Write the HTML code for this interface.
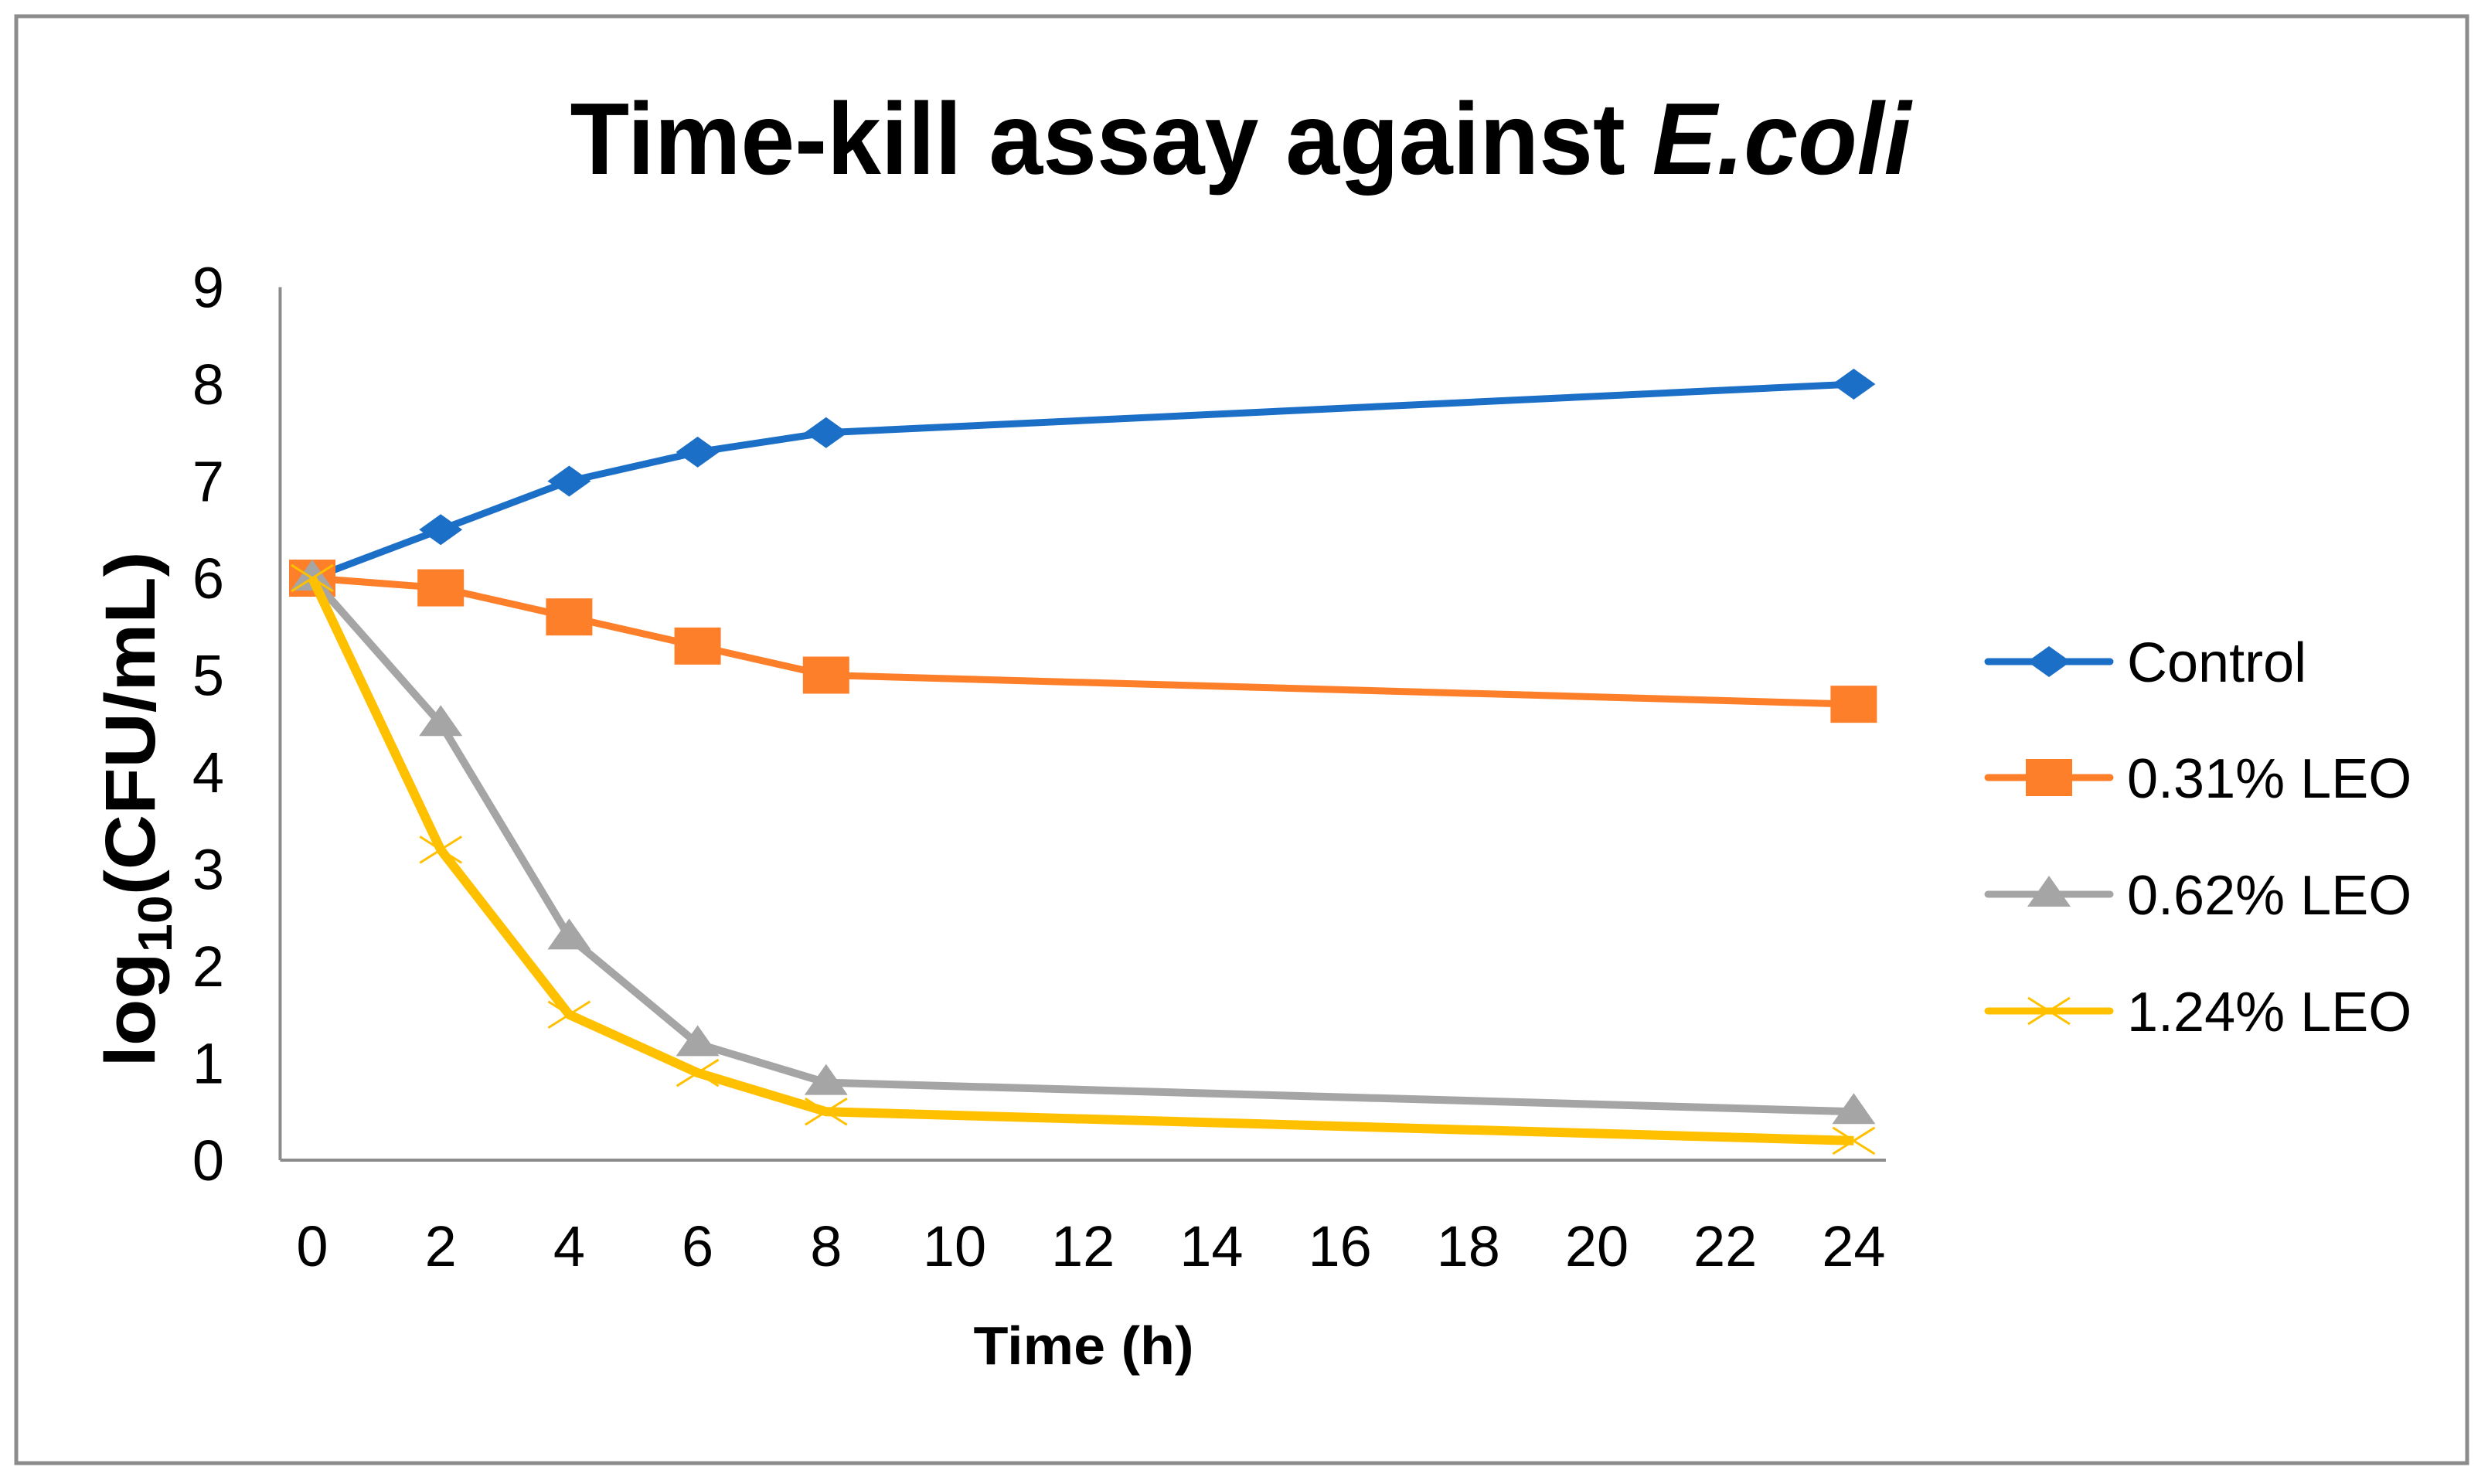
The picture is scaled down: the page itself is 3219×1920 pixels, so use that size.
<!DOCTYPE html>
<html><head><meta charset="utf-8"><style>
html,body{margin:0;padding:0;background:#fff;}
svg{display:block;font-family:"Liberation Sans",sans-serif;}
</style></head><body>
<svg id="chart" width="3219" height="1920" viewBox="0 0 3219 1920" xmlns="http://www.w3.org/2000/svg">
<rect x="21" y="21" width="3171" height="1872" fill="#fff" stroke="#8c8c8c" stroke-width="5"/>
<text x="1605" y="225" text-anchor="middle" font-size="132" font-weight="bold" textLength="1735" lengthAdjust="spacingAndGlyphs">Time-kill assay against <tspan font-style="italic">E.coli</tspan></text>
<g id="axes"></g>
<g id="series"></g>
<g id="legend"></g>
<text x="1402" y="1765" text-anchor="middle" font-size="70" font-weight="bold" textLength="285" lengthAdjust="spacingAndGlyphs">Time (h)</text>
<text transform="translate(200,1047) rotate(-90)" text-anchor="middle" font-size="92" font-weight="bold" textLength="667" lengthAdjust="spacingAndGlyphs">log<tspan font-size="62" dy="22">10</tspan><tspan dy="-22">(CFU/mL)</tspan></text>
</svg>
<script>
const xTicks = [0,2,4,6,8,10,12,14,16,18,20,22,24];
const yTicks = [0,1,2,3,4,5,6,7,8,9];
const times = [0,2,4,6,8,24];
const control = [6,6.5,7,7.3,7.5,8];
const leo031 = [6,5.9,5.6,5.3,5.0,4.7];
const leo062 = [6,4.5,2.3,1.2,0.8,0.5];
const leo124 = [6,3.2,1.5,0.9,0.5,0.2];
const seriesNames = ["Control","0.31% LEO","0.62% LEO","1.24% LEO"];

const NS="http://www.w3.org/2000/svg";
const X0=404, XSTEP=83.1, Y0=1501, YUNIT=125.5;
function xs(t){return X0+t*XSTEP;}
function ys(v){return Y0-v*YUNIT;}
function mk(tag,attrs,parent){const e=document.createElementNS(NS,tag);for(const k in attrs)e.setAttribute(k,attrs[k]);parent.appendChild(e);return e;}
const axes=document.getElementById('axes');
let a=mk('line',{x1:xs(-0.5),y1:ys(0),x2:xs(24.5),y2:ys(0),stroke:'#8c8c8c','stroke-width':4},axes);


a=mk('line',{x1:xs(-0.5),y1:ys(0),x2:xs(-0.5),y2:ys(9),stroke:'#8c8c8c','stroke-width':4},axes);


xTicks.forEach(t=>{const e=mk('text',{x:xs(t),y:1638,'text-anchor':'middle','font-size':74},axes);e.textContent=t;

});
yTicks.forEach(v=>{const e=mk('text',{x:290,y:ys(v)+26,'text-anchor':'end','font-size':74},axes);e.textContent=v;

});

const colors=['#1c6fc6','#fe7f2a','#a5a5a5','#ffc000'];
const widths=[9,9,10,12];
const data=[control,leo031,leo062,leo124];
function marker(i,cx,cy,parent){
  let m;
  if(i===0) m=mk('polygon',{points:`${cx-28},${cy} ${cx},${cy-20} ${cx+28},${cy} ${cx},${cy+20}`,fill:colors[0]},parent);
  else if(i===1) m=mk('rect',{x:cx-30,y:cy-24,width:60,height:48,fill:colors[1]},parent);
  else if(i===2) m=mk('polygon',{points:`${cx-28},${cy+16} ${cx},${cy-24} ${cx+28},${cy+16}`,fill:colors[2]},parent);
  else { m=mk('path',{d:`M${cx-27},${cy-17}L${cx+27},${cy+17}M${cx-27},${cy+17}L${cx+27},${cy-17}`,stroke:colors[3],'stroke-width':3,fill:'none'},parent);}
  return m;
}
const sg=document.getElementById('series');
data.forEach((vals,i)=>{
  const g=mk('g',{},sg);
  
  
  const pts=vals.map((v,j)=>xs(times[j])+','+ys(v)).join(' ');
  const l=mk('polyline',{points:pts,fill:'none',stroke:colors[i],'stroke-width':widths[i],'stroke-linejoin':'round'},g);
  
  
  vals.forEach((v,j)=>{const m=marker(i,xs(times[j]),ys(v),g);
    
    });
});
const lg=document.getElementById('legend');
const rowY=[856,1006,1157,1308];
seriesNames.forEach((n,i)=>{
  const g=mk('g',{},lg);
  
  
  mk('line',{x1:2572,y1:rowY[i],x2:2730,y2:rowY[i],stroke:colors[i],'stroke-width':9,'stroke-linecap':'round'},g);
  marker(i,2651,rowY[i],g);
  const t=mk('text',{x:2752,y:rowY[i]+26,'font-size':72},g);t.textContent=n;
});
</script>
</body></html>
